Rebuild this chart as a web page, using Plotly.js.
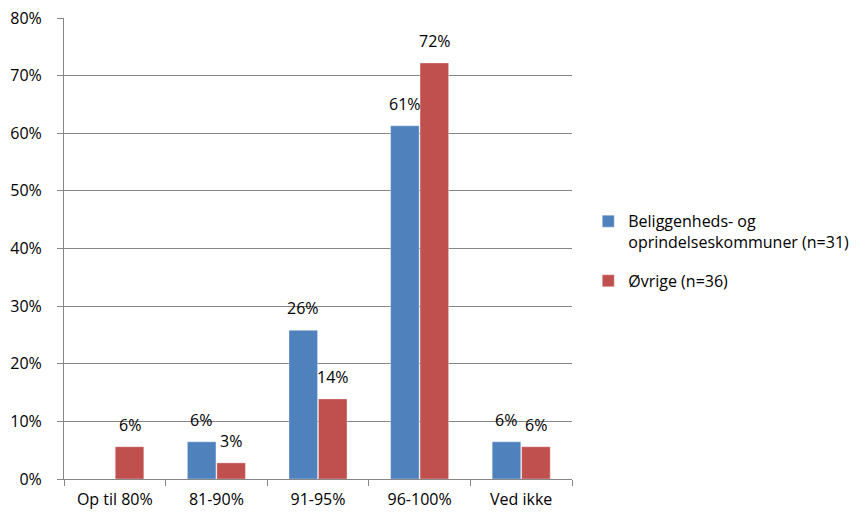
<!DOCTYPE html>
<html>
<head>
<meta charset="utf-8">
<script src="https://cdn.plot.ly/plotly-3.0.1.min.js"></script>
<style>html,body{margin:0;padding:0;background:#fff}#chart{width:868px;height:512px}</style>
</head>
<body>
<div id="chart"></div>
<script>
const categories = ["Op til 80%", "81-90%", "91-95%", "96-100%", "Ved ikke"];
const seriesNames = ["Beliggenheds- og<br>oprindelseskommuner (n=31)", "Øvrige (n=36)"];
const blueValues = [0, 6.45, 25.8, 61.3, 6.45];
const redValues = [5.6, 2.8, 13.9, 72.2, 5.6];
const blueLabels = ["", "6%", "26%", "61%", "6%"];
const redLabels = ["6%", "3%", "14%", "72%", "6%"];
const yTicks = [0, 10, 20, 30, 40, 50, 60, 70, 80];

const FONT = "'Open Sans', sans-serif";
const FS = 16;
const traces = [
  {type: 'bar', name: seriesNames[0], x: categories, y: blueValues, legendgroup: 'a',
   marker: {color: '#4F81BD', line: {color: 'rgba(255,255,255,0.35)', width: 1}}, hoverinfo: 'none'},
  {type: 'bar', name: seriesNames[1], x: categories, y: redValues, legendgroup: 'b',
   marker: {color: '#C0504D', line: {color: 'rgba(255,255,255,0.35)', width: 1}}, hoverinfo: 'none'}
];
const annotations = [];
categories.forEach((c, i) => {
  if (blueLabels[i]) annotations.push({x: c, y: blueValues[i], xref: 'x', yref: 'y', text: blueLabels[i],
    showarrow: false, xshift: -15, yshift: 22, font: {family: FONT, size: FS, color: '#000'}});
  if (redLabels[i]) annotations.push({x: c, y: redValues[i], xref: 'x', yref: 'y', text: redLabels[i],
    showarrow: false, xshift: 15, yshift: 22, font: {family: FONT, size: FS, color: '#000'}});
});
const layout = {
  width: 868, height: 512,
  margin: {l: 64, r: 296, t: 18, b: 33},
  paper_bgcolor: '#fff', plot_bgcolor: '#fff',
  font: {family: FONT, size: FS, color: '#000'},
  barmode: 'group', bargap: 0.42, bargroupgap: 0.03,
  showlegend: true,
  legend: {x: 1.032, y: 0.596, xanchor: 'left', yanchor: 'top', valign: 'top',
    traceorder: 'grouped', tracegroupgap: 15, font: {family: FONT, size: FS, color: '#000'}},
  xaxis: {type: 'category', showline: true, linecolor: '#868686', linewidth: 1,
    ticks: 'outside', tickson: 'boundaries', ticklen: 6, tickcolor: '#868686',
    showgrid: false, fixedrange: true, ticklabelstandoff: 6, tickfont: {family: FONT, size: FS, color: '#000'}},
  yaxis: {range: [0, 80], tickvals: yTicks, ticktext: yTicks.map(v => v + '%'),
    showline: true, linecolor: '#868686', linewidth: 1, ticks: 'outside', ticklen: 6, tickcolor: '#868686',
    showgrid: true, gridcolor: '#868686', gridwidth: 1, zeroline: false, ticklabelstandoff: 12,
    fixedrange: true, tickfont: {family: FONT, size: FS, color: '#000'}},
  annotations: annotations
};
Plotly.newPlot('chart', traces, layout, {displayModeBar: false, staticPlot: true});
</script>
</body>
</html>
